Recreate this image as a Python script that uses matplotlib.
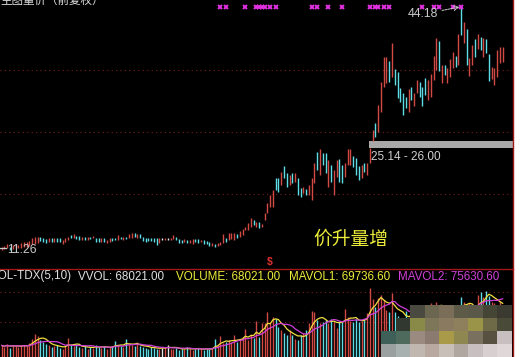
import numpy as np
import pandas as pd
import matplotlib
matplotlib.use('Agg')
import matplotlib.pyplot as plt
from matplotlib.colors import to_rgba
from matplotlib.patches import Rectangle

plt.rcParams['font.family'] = ['Liberation Sans', 'Noto Sans CJK SC', 'DejaVu Sans']

# daily bars (low / high / up-down-flat)
lows = [
    11.26, 11.35, 11.49, 11.26, 11.40, 11.49, 11.49, 11.58, 11.71, 11.71,
    11.85, 12.03, 12.03, 12.17, 12.48, 12.30, 12.17, 12.30, 12.30, 12.39,
    12.30, 12.39, 12.03, 12.39, 12.57, 12.84, 12.84, 12.71, 12.66, 12.66,
    12.66, 12.66, 12.75, 12.84, 12.39, 12.30, 12.39, 12.30, 12.17, 12.30,
    12.48, 12.57, 12.62, 12.71, 12.57, 12.75, 12.84, 12.93,
    12.98, 12.93, 12.93, 12.48, 12.39, 12.48, 12.48, 12.30, 11.94, 12.17,
    12.62, 12.66, 12.57, 12.62, 12.71, 12.62, 12.17, 12.17, 12.30, 12.21,
    12.17, 12.03, 12.30, 12.17, 12.30, 12.03, 12.03, 11.85, 11.85, 11.71,
    11.85, 11.94, 12.17, 12.39, 12.62, 12.71, 12.62, 12.84, 13.07, 13.30,
    13.97, 13.97, 14.42, 14.65, 14.42, 14.20, 14.42, 15.33, 16.23, 17.13,
    17.13, 19.39, 19.17, 20.07, 20.97, 19.84, 20.07, 20.29, 20.52, 18.71,
    18.49, 18.94, 18.71, 18.71, 18.04, 20.29, 22.10, 21.42, 22.78, 21.74,
    19.84, 20.52, 18.71, 21.20, 20.52, 20.29, 21.20, 22.78, 22.78, 22.55,
    21.42, 20.75, 20.97, 21.87, 21.42, 23.00,
    26.00, 26.61, 27.29, 30.00, 33.39, 33.84, 34.07, 34.74, 33.61, 31.81,
    31.36, 29.55, 30.45, 30.00, 31.58, 30.77, 32.49, 32.03, 30.77, 32.26,
    31.58, 32.03, 34.29, 35.65, 35.56, 33.93, 34.97, 33.93, 34.65, 35.87,
    36.01, 36.32, 40.39, 39.35, 36.32, 34.83, 36.32, 37.45, 38.45, 38.36,
    37.36, 37.90, 34.20, 34.38, 33.61, 34.65, 36.55, 36.77,
]
highs = [
    11.71, 11.85, 12.03, 11.71, 11.94, 12.03, 11.94, 12.17, 12.30, 12.39,
    12.48, 12.84, 13.02, 13.02, 12.98, 12.84, 12.75, 12.84, 12.84, 12.84,
    12.84, 12.84, 12.62, 12.84, 13.02, 13.30, 13.39, 13.16, 13.11, 13.02,
    13.07, 13.02, 13.07, 13.16, 12.93, 12.84, 12.84, 12.84, 12.62, 12.84,
    12.84, 12.93, 13.30, 13.07, 13.07, 13.02, 13.39, 13.52,
    13.52, 13.39, 13.39, 13.07, 12.84, 12.84, 12.93, 12.84, 12.84, 12.84,
    12.84, 12.93, 12.84, 12.84, 13.30, 13.07, 12.71, 12.62, 12.71, 12.66,
    12.62, 12.71, 12.75, 12.75, 12.62, 12.62, 12.48, 12.39, 12.17, 12.08,
    12.17, 12.30, 13.39, 12.84, 13.52, 13.61, 13.52, 13.39, 13.84, 14.11,
    14.42, 14.88, 15.55, 15.33, 15.10, 15.10, 14.74, 16.23, 17.58, 18.71,
    19.39, 20.97, 20.97, 21.87, 22.64, 21.65, 21.42, 21.65, 21.74, 20.97,
    19.62, 19.84, 19.48, 20.07, 20.97, 23.00, 24.58, 24.90, 24.36, 24.45,
    23.46, 22.78, 22.10, 23.46, 23.55, 22.78, 23.00, 24.90, 24.90, 24.00,
    23.68, 22.64, 22.78, 23.09, 23.00, 25.14,
    27.52, 28.42, 30.90, 34.07, 37.45, 37.45, 36.87, 39.26, 35.74, 35.42,
    33.16, 32.58, 32.03, 33.03, 33.30, 32.49, 34.29, 34.07, 33.39, 34.52,
    34.29, 35.10, 37.54, 39.94, 39.62, 36.32, 36.32, 35.87, 37.09, 38.13,
    37.54, 40.52, 44.18, 42.19, 41.16, 37.23, 39.03, 39.80, 40.52, 40.16,
    39.94, 39.80, 37.81, 36.10, 35.87, 38.36, 38.72, 38.72,
]
dirs = ("uuuduuuuuuuuuu" "dddud" "udduu" "ududd" "ududu" "ddudu" "uddud" "uduu"
        "duddd" "ddddu" "wuwuu" "dddud" "uuddu" "dddud" "uuudu" "uuduu"
        "uuudu" "duuuu" "uddud" "dudud" "duduu" "ududd" "uduud" "duuud" "ddudu" "u"
        "uduuu" "ududd" "dddud" "uuddd" "uuuud" "uduuu" "dudud" "uudud" "udduu" "uuu")

# volume, thousands of lots
vol_k = [
    15, 13, 17, 12, 16, 14, 13, 15, 16, 14, 18,
    24, 30, 27, 22, 20, 17, 15, 13, 14, 16, 12, 11, 14, 25,
    16, 14, 15, 13, 12, 14, 11, 13, 12, 15, 13, 12, 14, 11, 13, 14,
    21, 16, 14, 13, 24, 18, 15, 14, 18, 14, 13, 12, 11, 13, 12,
    11, 10, 12, 13, 16,
    11, 10, 12, 9, 11, 10, 13, 10, 9, 11, 12, 10, 9, 11, 10, 12,
    24, 15, 27, 18, 20, 22, 19, 28, 20, 24, 26, 37, 22, 30, 25,
    47, 26, 44, 44, 58, 44, 52, 50, 39, 35, 31, 28, 35, 28, 24, 22, 28, 31, 35, 44,
    60, 58, 48, 44, 46, 48, 44, 49, 46, 38, 46, 46, 62, 52, 47, 46, 50, 46, 47, 49,
    57, 90, 75, 65, 77, 80, 74, 61, 58, 83, 58, 53,
    50, 48, 60, 52, 58, 50, 55, 62, 54, 50, 57, 70, 66, 72, 68,
    60, 55, 58, 52, 60, 62, 64, 78, 72, 65, 70, 60, 58,
    80, 84, 78, 86, 79.7, 72, 70, 66, 72.6, 68.021,
]

signal_idx = [79, 81, 88, 92, 93, 94, 95, 97, 99, 112, 114, 118, 123,
              133, 135, 136, 138, 140, 152, 156, 158, 163, 166]
grid_prices = [18.85, 27.25, 35.65]
grid_vols = [45.5, 84.5]
gap_low, gap_high = 25.14, 26.00
peak_i, peak_price = 166, 44.18
low_price = 11.26

assert len(lows) == len(highs) == len(dirs) == len(vol_k), (len(lows), len(highs), len(dirs), len(vol_k))

W, H = 526, 357
sp = 501 / 181  # px per bar


def px(x0, y0, x1, y1):
    return [x0 / W, 1 - y1 / H, (x1 - x0) / W, (y1 - y0) / H]


fig = plt.figure(figsize=(W / 100, H / 100), dpi=100, facecolor='black')
ax = fig.add_axes(px(0, 0, 512, 268))
axv = fig.add_axes(px(0, 269, 512, 357))
for a in (ax, axv):
    a.set_facecolor('black')
    a.axis('off')
    a.set_xlim(-1.7 / sp, (512 - 1.7) / sp)

idx = np.arange(len(lows))
palette = {'u': '#d24a44', 'd': '#5fdde6', 'w': '#e8e8e8'}
cols = [palette[c] for c in dirs]

ax.set_ylim(8.82, 45.13)
dot = dict(color='#7a1c1c', lw=0.8, linestyle=(0, (1, 3)))
for g in grid_prices:
    ax.axhline(g, **dot)
ax.vlines(idx, lows, highs, colors=cols, lw=1.0)

ax.plot(signal_idx, [0.974] * len(signal_idx), 'x', color='#e030e0', ms=3.5,
        mew=1.4, transform=ax.get_xaxis_transform(), clip_on=False)

ax.fill_between([132.8, 185], gap_low, gap_high, color='#a8a8a8', lw=0)
ax.text(133.6, 23.86, f'{gap_low:.2f} - {gap_high:.2f}', color='#d0d0d0',
        fontsize=8.5, va='center', ha='left')

ax.annotate(f'{peak_price:.2f}', xy=(peak_i - 0.6, peak_price), xytext=(157.6, 43.2),
            ha='right', va='center', color='#c8c8c8', fontsize=8.8,
            arrowprops=dict(arrowstyle='->', color='#c8c8c8', lw=0.7,
                            linestyle=(0, (2, 1)), shrinkA=1, shrinkB=0))

ax.plot([-0.7, 1.7], [11.55, 11.55], color='#c8c8c8', lw=0.9)
ax.text(1.9, low_price, f'{low_price:.2f}', color='#c8c8c8', fontsize=8.8,
        va='center', ha='left')

ax.text(112.5, 12.75, '价升量增', color='#ecec3a', fontsize=13.5, va='center',
        ha='left', family=['Noto Sans CJK SC', 'DejaVu Sans'])
ax.text(96.9, 9.7, '$', color='#e03030', fontsize=7.5, fontweight='bold',
        va='center', ha='center')

# volume panel
axv.set_ylim(0, 114.4)
for g in grid_vols:
    axv.axhline(g, **dot)
axv.vlines(idx, 0, vol_k, colors=cols, lw=1.0)
vs = pd.Series(vol_k)
axv.plot(idx, vs.rolling(5, min_periods=1).mean(), color='#f0e040', lw=0.9)
axv.plot(idx, vs.rolling(10, min_periods=1).mean(), color='#d040d8', lw=0.9)

ty = 1 - 276.5 / H
fs = 8.4
fig.text(72 / W, ty, 'VOL-TDX(5,10)', color='#e0e0e0', fontsize=fs, ha='right', va='center')
fig.text(78 / W, ty, 'VVOL: 68021.00', color='#e0e0e0', fontsize=fs, va='center')
fig.text(176 / W, ty, 'VOLUME: 68021.00', color='#ecec3a', fontsize=fs, va='center')
fig.text(289 / W, ty, 'MAVOL1: 69736.60', color='#ecec3a', fontsize=fs, va='center')
fig.text(398 / W, ty, 'MAVOL2: 75630.60', color='#d040d8', fontsize=fs, va='center')

fig.text(0, 1.0, '主图量价（前复权）', color='#e0e0e0', fontsize=8.3, va='center',
         family=['Noto Sans CJK SC', 'DejaVu Sans'])

# frame, white margin and the pixelated patch
ov = fig.add_axes([0, 0, 1, 1])
ov.patch.set_alpha(0)
ov.axis('off')
mosaic = [
    [None, None, '#4a4a40', '#6b6650', '#7a6e58', '#5e5a48', '#5a5848', '#454535', '#3a3a30'],
    [None, '#303830', '#8a8a48', '#7d7658', '#8a7a60', '#8e805c', '#9a9448', '#6e6a48', '#4a4a38'],
    ['#3e6058', '#4e6a5c', '#9a8a80', '#8a7a70', '#a89a48', '#8e8850', '#7a7060', '#585040', '#c8c0c0'],
    ['#9aa0a0', '#a8b0b0', '#c0b8b0', '#b8a8a0', '#c8c0b8', '#b0a8a0', '#c8c0c0', '#d8d0d0', '#e0d8d8'],
]
rgba = np.array([[to_rgba(c) if c else (0, 0, 0, 0) for c in row] for row in mosaic])
ov.imshow(rgba, extent=(381, 512, 357, 305), interpolation='nearest', aspect='auto')
ov.add_patch(Rectangle((513, 0), 13, H, color='white', lw=0))
ov.plot([512.5, 512.5], [0, H], color='#a01818', lw=1.0)
ov.plot([0, 512.5], [268.5, 268.5], color='#a01818', lw=1.0)
ov.set_xlim(0, W)
ov.set_ylim(H, 0)

fig.savefig('out.png', dpi=100, facecolor='black')
